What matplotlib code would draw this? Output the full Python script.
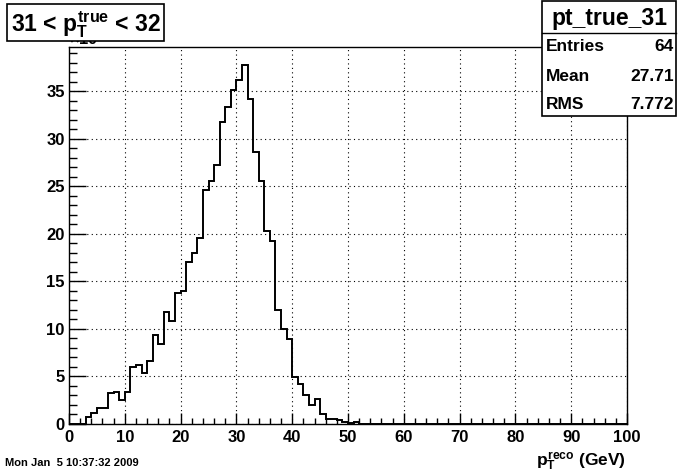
import numpy as np
import matplotlib.pyplot as plt
from matplotlib.patches import Rectangle
from matplotlib.lines import Line2D
from matplotlib.ticker import MultipleLocator

plt.rcParams['font.family'] = ['Liberation Sans', 'DejaVu Sans']
plt.rcParams['font.weight'] = 'bold'
plt.rcParams['mathtext.fontset'] = 'custom'
plt.rcParams['mathtext.rm'] = 'Liberation Sans:bold'
plt.rcParams['mathtext.it'] = 'Liberation Sans:bold'
plt.rcParams['mathtext.bf'] = 'Liberation Sans:bold'

# p_T reco histogram, 1 GeV bins from 0 to 100
edges = np.arange(0, 101, 1)
counts = np.zeros(100)
counts[3:52] = [0.7, 1.13, 1.66, 1.66, 3.27, 3.38, 2.5, 3.38,
                5.95, 6.23, 5.35, 6.6, 9.4, 8.4, 11.8, 10.85, 13.8,
                14.05, 17.1, 17.95, 19.6, 24.6, 25.6, 27.25, 31.8, 33.4,
                35.2, 36.2, 37.76, 34.2, 28.6, 25.6, 20.35, 19.3,
                12.05, 10.05, 8.95, 4.95, 4.2, 3.1, 2.0, 2.6, 1.05,
                0.55, 0.5, 0.45, 0.2, 0.07, 0.2]

title = r'31 < $p_{T}^{true}$ < 32'
hname = 'pt_true_31'
stats = [('Entries', '64'), ('Mean', '27.71'), ('RMS', '7.772')]
datestr = 'Mon Jan  5 10:37:32 2009'

W, H = 696, 472
fig = plt.figure(figsize=(W/100, H/100), dpi=100)
fig.patch.set_facecolor('white')

def fx(px):
    return px / W

def fy(py):
    return 1 - py / H

ax = fig.add_axes([fx(69), fy(424), fx(627) - fx(69), fy(47.3) - fy(424)])
ax.stairs(counts, edges, color='black', lw=1.4)
ax.set_xlim(0, 100)
ax.set_ylim(0, 1.05 * counts.max())

ax.xaxis.set_major_locator(MultipleLocator(10))
ax.xaxis.set_minor_locator(MultipleLocator(2))
ax.yaxis.set_major_locator(MultipleLocator(5))
ax.yaxis.set_minor_locator(MultipleLocator(1))
ax.tick_params(axis='x', which='major', direction='in', length=7.7, width=1, pad=4, labelsize=12)
ax.tick_params(axis='x', which='minor', direction='in', length=4, width=1)
ax.tick_params(axis='y', which='major', direction='in', length=12, width=1, pad=3, labelsize=12)
ax.tick_params(axis='y', which='minor', direction='in', length=6, width=1)
for lab in ax.get_xticklabels() + ax.get_yticklabels():
    lab.set_fontweight('bold')
ax.grid(True, which='major', color='black', linestyle=(0, (1, 3)), lw=0.8)
for s in ax.spines.values():
    s.set_linewidth(1)

# exponent label partly hidden behind the title box
ax.text(0.0, 1.0, r'$\times10^{-3}$', transform=ax.transAxes, fontsize=12,
        ha='left', va='bottom', clip_on=False)

# title box
fig.add_artist(Rectangle((fx(7), fy(41)), fx(164) - fx(7), fy(4) - fy(41),
                         transform=fig.transFigure, fc='white', ec='black', lw=1.2, zorder=5))
fig.text(fx(11), fy(32), title, fontsize=16.5, fontweight='bold', ha='left', va='baseline', zorder=6)

# stats box
fig.add_artist(Rectangle((fx(542), fy(116)), fx(676) - fx(542), fy(1) - fy(116),
                         transform=fig.transFigure, fc='white', ec='black', lw=1.2, zorder=5))
fig.add_artist(Line2D([fx(542), fx(676)], [fy(33.3), fy(33.3)], transform=fig.transFigure,
                      color='black', lw=1, zorder=6))
fig.text(fx(609), fy(25), hname, fontsize=16.5, fontweight='bold', ha='center', va='baseline', zorder=6)
for (lab, val), base in zip(stats, [51, 81, 109]):
    fig.text(fx(546), fy(base), lab, fontsize=12.5, fontweight='bold', ha='left', va='baseline', zorder=6)
    fig.text(fx(674), fy(base), val, fontsize=12.5, fontweight='bold', ha='right', va='baseline', zorder=6)

fig.text(fx(626), fy(465), r'$p_{T}^{reco}$ (GeV)', fontsize=12.5, fontweight='bold',
         ha='right', va='baseline')
fig.text(fx(5), fy(466), datestr, fontsize=8, fontweight='bold', ha='left', va='baseline')

fig.savefig('out.png', dpi=100)
